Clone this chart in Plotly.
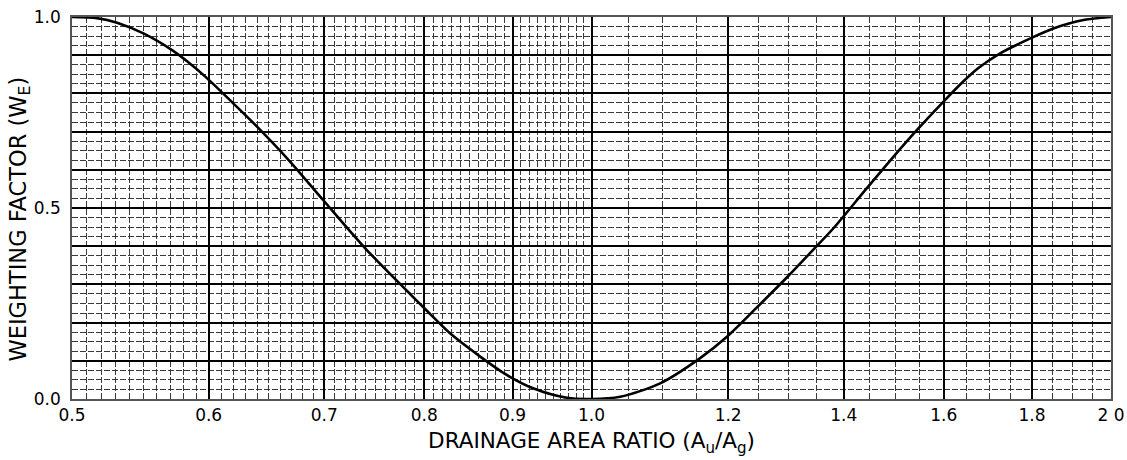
import numpy as np
import plotly.graph_objects as go

# Curve
ratio = [0.500, 0.517, 0.531, 0.550, 0.572, 0.583, 0.598, 0.620, 0.640, 0.669,
         0.699, 0.741, 0.783, 0.802, 0.828, 0.862, 0.893, 0.925, 0.968, 1.000,
         1.039, 1.096, 1.156, 1.198, 1.247, 1.299, 1.347, 1.381, 1.444, 1.496,
         1.543, 1.596, 1.642, 1.675, 1.725, 1.796, 1.852, 1.928, 2.000]
weight = [1.000, 0.997, 0.985, 0.957, 0.912, 0.884, 0.842, 0.774, 0.713, 0.621,
          0.521, 0.390, 0.280, 0.233, 0.172, 0.111, 0.063, 0.028, 0.003, 0.000,
          0.006, 0.041, 0.107, 0.163, 0.240, 0.320, 0.395, 0.447, 0.552, 0.634,
          0.703, 0.774, 0.831, 0.866, 0.905, 0.944, 0.970, 0.992, 1.000]

x_tick_vals = [0.5, 0.6, 0.7, 0.8, 0.9, 1.0, 1.2, 1.4, 1.6, 1.8, 2.0]
x_tick_text = ["0.5", "0.6", "0.7", "0.8", "0.9", "1.0", "1.2", "1.4", "1.6", "1.8", "2 0"]
y_tick_vals = [round(v, 1) for v in np.arange(0, 1.01, 0.1)]
y_tick_text = ["0.0", "", "", "", "", "0.5", "", "", "", "", "1.0"]

x_title = "DRAINAGE AREA RATIO (A<sub>u</sub>/A<sub>g</sub>)"
y_title = "WEIGHTING FACTOR (W<sub>E</sub>)"

# graph-paper minor rulings
x_minor = [round(v, 2) for v in np.arange(0.50, 1.0001, 0.01)] + \
          [round(v, 2) for v in np.arange(1.05, 2.0001, 0.05)]
x_minor = [v for v in x_minor if v not in x_tick_vals]
y_minor = [round(v, 3) for v in np.arange(0, 1.0001, 0.025)]
y_minor = [v for v in y_minor if abs(v * 10 - round(v * 10)) > 1e-6]

FONT = "DejaVu Sans, Verdana, sans-serif"

fig = go.Figure()
fig.add_trace(go.Scatter(x=ratio, y=weight, mode="lines",
                         line=dict(color="black", width=2.6, shape="spline", smoothing=0.8),
                         hoverinfo="skip", showlegend=False))

fig.update_layout(
    width=1127, height=460,
    margin=dict(l=72, r=16, t=17, b=61),
    paper_bgcolor="white", plot_bgcolor="white",
    font=dict(family=FONT, size=17, color="black"),
    showlegend=False,
)

fig.update_xaxes(
    type="log", range=[np.log10(0.5), np.log10(2.0)], automargin=False,
    tickmode="array", tickvals=x_tick_vals, ticktext=x_tick_text,
    ticks="", tickfont=dict(size=17), ticklabelstandoff=0, ticklabeloverflow="allow",
    showgrid=True, gridcolor="black", gridwidth=1.6,
    minor=dict(tickmode="array", tickvals=x_minor, showgrid=True,
               gridcolor="#3a3a3a", gridwidth=0.9, griddash="6px,2px", ticks=""),
    showline=True, linecolor="#555", linewidth=1.5, mirror=True,
    zeroline=False,
    title=dict(text=x_title, font=dict(size=21.5), standoff=9),
)
fig.update_yaxes(
    range=[0, 1.0], automargin=False,
    tickmode="array", tickvals=y_tick_vals, ticktext=y_tick_text,
    ticks="", tickfont=dict(size=17), ticklabelstandoff=6, ticklabeloverflow="allow",
    showgrid=True, gridcolor="black", gridwidth=1.6,
    minor=dict(tickmode="array", tickvals=y_minor, showgrid=True,
               gridcolor="#3a3a3a", gridwidth=0.9, griddash="6px,2px", ticks=""),
    showline=True, linecolor="#555", linewidth=1.5, mirror=True,
    zeroline=False,
)

# y-axis title placed as a rotated annotation in the left margin
fig.add_annotation(text=y_title, xref="paper", yref="paper", x=-0.05, y=0.47,
                   xanchor="center", yanchor="middle", textangle=-90, showarrow=False,
                   font=dict(size=22.5, family=FONT, color="black"))

# remove the browser's default page margin so the figure fills the window exactly
fig.write_html("out.html",
               config={"displayModeBar": False},
               post_script="document.body.style.margin='0';"
                           "document.documentElement.style.overflow='hidden';")
